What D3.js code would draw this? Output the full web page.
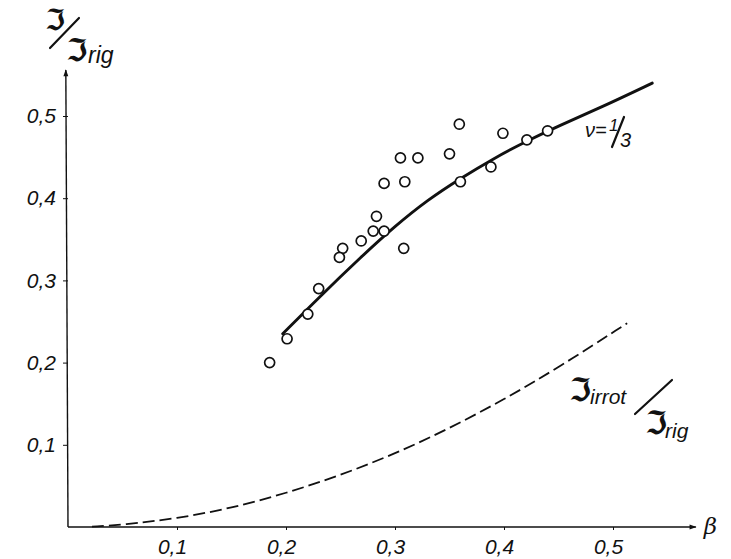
<!DOCTYPE html>
<html>
<head>
<meta charset="utf-8">
<script src="https://cdn.jsdelivr.net/npm/d3@7"></script>
<style>
  html, body { margin: 0; padding: 0; background: #fff; }
  svg { display: block; }
</style>
</head>
<body>
<svg id="chart" width="731" height="559"></svg>
<script>
// ---- data ----
const xTicks = [0.1, 0.2, 0.3, 0.4, 0.5];
const yTicks = [0.1, 0.2, 0.3, 0.4, 0.5];
const tickLabel = v => String(v).replace(".", ",");

// measured points: beta, J/Jrig
const pointBeta = [0.359, 0.305, 0.321, 0.350, 0.290, 0.309, 0.360, 0.388, 0.283, 0.280, 0.290,
                   0.269, 0.252, 0.249, 0.308, 0.230, 0.220, 0.201, 0.185, 0.399, 0.421, 0.440];
const pointRatio = [0.490, 0.449, 0.449, 0.454, 0.418, 0.420, 0.420, 0.438, 0.378, 0.360, 0.360,
                    0.348, 0.339, 0.328, 0.339, 0.290, 0.259, 0.229, 0.200, 0.479, 0.471, 0.482];

// solid curve nu = 1/3
const fitBeta  = [0.197, 0.230, 0.270, 0.300, 0.330, 0.360, 0.390, 0.420, 0.450, 0.490, 0.536];
const fitRatio = [0.235, 0.279, 0.330, 0.366, 0.398, 0.424, 0.448, 0.469, 0.488, 0.511, 0.540];

// dashed curve J_irrot / J_rig
const irrotBeta  = [0.022, 0.050, 0.100, 0.150, 0.200, 0.250, 0.300, 0.350, 0.400, 0.450, 0.513];
const irrotRatio = [0.0005, 0.0026, 0.0103, 0.023, 0.041, 0.063, 0.089, 0.120, 0.155, 0.194, 0.248];

// ---- drawing ----
const svg = d3.select("#chart");
const ink = "#111";
const lab = "Liberation Sans, DejaVu Sans, sans-serif";
const frak = "DejaVu Sans, DejaVu Serif, serif";

const x = d3.scaleLinear().domain([0, 0.5]).range([68, 613]);
const y = d3.scaleLinear().domain([0, 0.5]).range([527, 116]);

function styleTicks(g) {
  g.selectAll(".tick line").attr("stroke", ink);
  g.selectAll(".tick text").attr("font-family", lab).attr("font-style", "italic")
    .attr("font-size", 21).attr("fill", ink);
}

// axes with ticks
const xAxis = svg.append("g").attr("transform", `translate(0,${y(0)})`)
  .call(d3.axisBottom(x).tickValues(xTicks).tickFormat(tickLabel).tickSizeInner(3).tickSizeOuter(0).tickPadding(5));
xAxis.select(".domain").remove();
styleTicks(xAxis);
xAxis.selectAll(".tick text").attr("dx", -5).attr("dy", "0.9em");

const yAxis = svg.append("g").attr("transform", `translate(${x(0)},0)`)
  .call(d3.axisLeft(y).tickValues(yTicks).tickFormat(tickLabel).tickSizeInner(5).tickSizeOuter(0).tickPadding(7));
yAxis.select(".domain").remove();
styleTicks(yAxis);

// axis lines with arrows
svg.append("defs").append("marker")
  .attr("id", "arrow").attr("viewBox", "0 0 10 10").attr("refX", 9).attr("refY", 5)
  .attr("markerWidth", 10).attr("markerHeight", 7).attr("markerUnits", "userSpaceOnUse")
  .attr("orient", "auto")
  .append("path").attr("d", "M0,1.5 L10,5 L0,8.5 Z").attr("fill", ink);

svg.append("line")
  .attr("x1", x(0)).attr("y1", y(0)).attr("x2", x(0.576)).attr("y2", y(0))
  .attr("stroke", ink).attr("stroke-width", 1.6).attr("marker-end", "url(#arrow)");
svg.append("line")
  .attr("x1", x(0)).attr("y1", y(0)).attr("x2", x(-0.002)).attr("y2", y(0.556))
  .attr("stroke", ink).attr("stroke-width", 1.4).attr("marker-end", "url(#arrow)");

// beta label
svg.append("text").attr("x", x(0.576) + 8).attr("y", y(0) + 7)
  .attr("font-family", "DejaVu Serif, serif").attr("font-style", "italic").attr("font-size", 23)
  .attr("fill", ink).text("β");

// dashed curve
const smooth = d3.line().x(d => x(d[0])).y(d => y(d[1])).curve(d3.curveBasis);
svg.append("path")
  .datum(irrotBeta.map((b, i) => [b, irrotRatio[i]]))
  .attr("d", smooth).attr("fill", "none").attr("stroke", ink)
  .attr("stroke-width", 1.8).attr("stroke-dasharray", "12,5");

// solid fit curve
svg.append("path")
  .datum(fitBeta.map((b, i) => [b, fitRatio[i]]))
  .attr("d", smooth).attr("fill", "none").attr("stroke", ink)
  .attr("stroke-width", 2.9).attr("stroke-linecap", "round");

// points
svg.append("g").selectAll("circle")
  .data(pointBeta.map((b, i) => [b, pointRatio[i]]))
  .join("circle")
  .attr("cx", d => x(d[0])).attr("cy", d => y(d[1])).attr("r", 5)
  .attr("fill", "#fff").attr("stroke", ink).attr("stroke-width", 1.7);

// helpers for labels
function txt(px, py, s, size, fam, italic, bold) {
  svg.append("text").attr("x", px).attr("y", py).attr("font-family", fam)
    .attr("font-size", size).attr("font-style", italic ? "italic" : "normal")
    .attr("font-weight", bold ? "bold" : "normal").attr("fill", ink).text(s);
}
function slash(x1, y1, x2, y2) {
  svg.append("line").attr("x1", x1).attr("y1", y1).attr("x2", x2).attr("y2", y2)
    .attr("stroke", ink).attr("stroke-width", 2.2).attr("stroke-linecap", "round");
}

// y-axis title  J / J_rig
txt(45, 30, "ℑ", 29, frak, false, true);
slash(50, 48, 79, 18);
txt(66, 61, "ℑ", 31, frak, false, true);
txt(88, 63, "rig", 23, lab, true, false);

// nu = 1/3 label
txt(585, 137, "ν=", 20, lab, true, false);
txt(609, 131, "1", 17, lab, true, false);
slash(612, 147, 624, 117);
txt(620, 147, "3", 20, lab, true, false);

// J_irrot / J_rig label
txt(569, 401, "ℑ", 32, frak, false, true);
txt(590, 404, "irrot", 21, lab, true, false);
slash(635, 414, 672, 380);
txt(645, 434, "ℑ", 32, frak, false, true);
txt(665, 438, "rig", 21, lab, true, false);
</script>
</body>
</html>
